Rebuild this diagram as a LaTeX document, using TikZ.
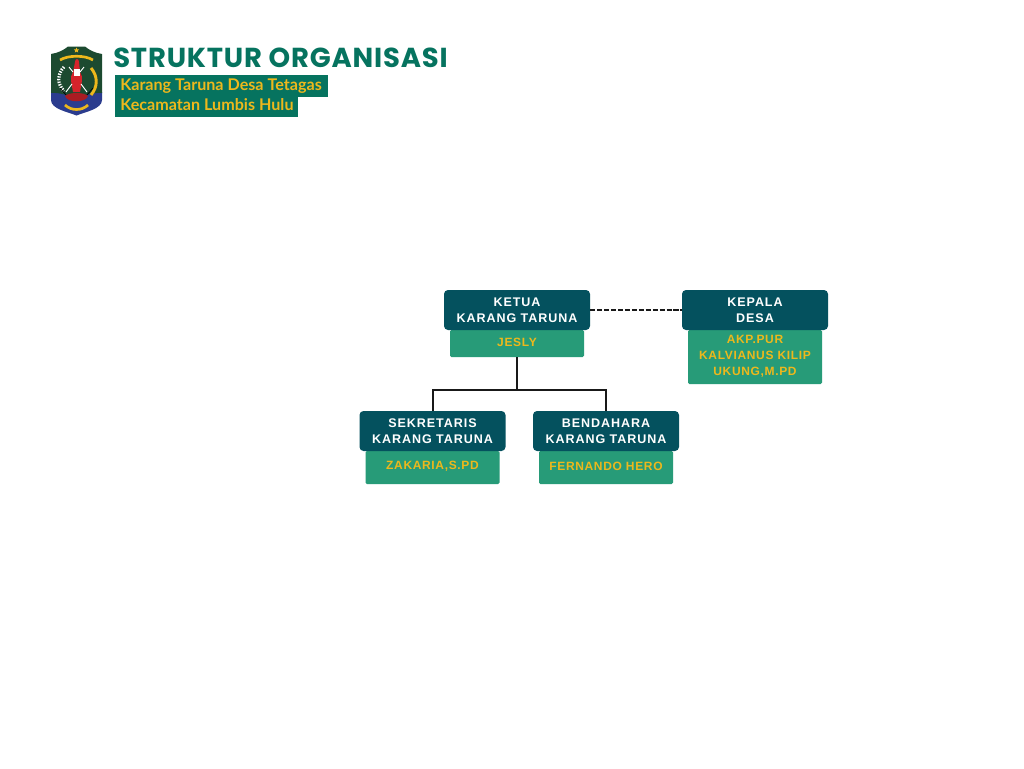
\documentclass[tikz,border=0pt]{standalone}
\usepackage{fontspec}
\setmainfont{Liberation Sans}
\newfontfamily\titlefont[LetterSpace=3]{Poppins}
\newfontfamily\subfont{Lato}
\newfontfamily\boxfont[LetterSpace=7.5]{Liberation Sans}
\newfontfamily\namefont[LetterSpace=5.5]{Liberation Sans}
\definecolor{darkteal}{HTML}{04515E}
\definecolor{midgreen}{HTML}{279B78}
\definecolor{gold}{HTML}{EDB81C}
\definecolor{titlegreen}{HTML}{06735F}
\definecolor{shieldgreen}{HTML}{1C4A30}
\definecolor{shieldblue}{HTML}{2B3C8E}
\definecolor{emblemred}{HTML}{D5232B}
\tikzset{
  rolebox/.style={fill=darkteal,rounded corners=3pt,inner sep=0pt,minimum width=109.5pt,minimum height=30pt},
  namebox/.style={fill=midgreen,rounded corners=1pt,inner sep=0pt,minimum width=100.5pt},
  roletext/.style={text=white,font=\boxfont\bfseries\fontsize{9.4}{12}\selectfont,align=center,inner sep=0pt},
  nametext/.style={text=gold,font=\namefont\bfseries\fontsize{9}{12}\selectfont,align=center,inner sep=0pt},
  banner/.style={fill=titlegreen,inner sep=0pt,minimum height=16pt,anchor=west},
  bannertext/.style={text=gold,font=\subfont\bfseries\fontsize{12.1}{12}\selectfont,inner sep=0pt,anchor=base west},
  link/.style={line width=1.5pt,black!90}
}
\begin{document}
\begin{tikzpicture}[x=0.75pt,y=-0.75pt]
\useasboundingbox[fill=white] (0,0) rectangle (1024,768);

% emblem
\fill[shieldblue] (51,92) -- (51,100) .. controls (51,109) and (68,112) .. (76.5,115.5) .. controls (85,112) and (102,109) .. (102,100) -- (102,92) -- cycle;
\fill[shieldgreen] (51,54) .. controls (58,53) and (64,50) .. (68,46.5) -- (85,46.5) .. controls (89,50) and (95,53) .. (102,54) -- (102,93) .. controls (92,92) and (86,97) .. (76.5,95) .. controls (67,97) and (61,92) .. (51,93) -- cycle;
\fill[gold] (76.5,47.5) -- (77.3,49.4) -- (79.2,49.5) -- (77.7,50.7) -- (78.2,52.6) -- (76.5,51.5) -- (74.8,52.6) -- (75.3,50.7) -- (73.8,49.5) -- (75.7,49.4) -- cycle;
\draw[gold,line width=2pt] (60,60) .. controls (68,55) and (85,55) .. (93,60);
\draw[gold,line width=2.2pt] (91,68) .. controls (98,76) and (98,87) .. (91,95);
\draw[white,line width=2.4pt,dash pattern=on 1pt off 1pt] (64,67) .. controls (57,74) and (57,84) .. (64,91);
\fill[emblemred] (75,62) .. controls (75,58) and (79,58) .. (79,62) -- (80,72) .. controls (84,77) and (81,85) .. (80,92) -- (73,92) .. controls (72,85) and (69,77) .. (73,72) -- cycle;
\fill[white] (73.5,69) rectangle (80,76);
\draw[white,line width=.7pt] (69,67) -- (73,72) (84,67) -- (80,72);
\draw[white,line width=.7pt] (72,84) -- (66,92) (81,84) -- (87,92);
\fill[emblemred!80!black] (65,96) .. controls (69,92) and (84,92) .. (88,96) .. controls (86,103) and (67,103) .. (65,96) -- cycle;
\draw[black,line width=.5pt] (66,95) -- (60,88) (87,95) -- (93,88);
\draw[gold,line width=2pt] (65,105) .. controls (71,111) and (82,111) .. (88,105);

% title
\node[text=titlegreen,font=\titlefont\bfseries\fontsize{20.6}{24}\selectfont,inner sep=0pt,anchor=base west] (title) at (113,67) {STRUKTUR ORGANISASI};
\node[banner,minimum width=159.75pt] (bannerone) at (114.5,86) {};
\node[banner,minimum width=137.25pt] (bannertwo) at (114.5,106) {};
\node[bannertext] (subone) at (120,90) {Karang Taruna Desa Tetagas};
\node[bannertext] (subtwo) at (120,110) {Kecamatan Lumbis Hulu};

% name boxes
\node[namebox,minimum height=20.25pt] (jeslybox) at (517,343.5) {};
\node[namebox,minimum height=40.5pt] (kadesbox) at (755,357) {};
\node[namebox,minimum height=24.75pt] (sekbox) at (432.5,467.5) {};
\node[namebox,minimum height=24.75pt] (benbox) at (606,467.5) {};

% connectors
\coordinate (fork) at (517,390);
\draw[link] (jeslybox.south) -- (fork);
\draw[link,line join=miter] (sekbox.center |- 0,411) -- (sekbox.center |- fork) -- (benbox.center |- fork) -- (benbox.center |- 0,411);
\node[rolebox] (ketua) at (517,310) {};
\node[rolebox] (kepala) at (755,310) {};
\node[rolebox] (sek) at (432.5,431) {};
\node[rolebox] (ben) at (606,431) {};
\draw[link,dash pattern=on 3.8pt off 1.4pt] (ketua.east) -- (kepala.west);

% texts
\node[roletext] (ketuat) at (517,310) {KETUA\\KARANG TARUNA};
\node[roletext] (kepalat) at (755,310) {KEPALA\\DESA};
\node[roletext] (sekt) at (432.5,431) {SEKRETARIS\\KARANG TARUNA};
\node[roletext] (bent) at (606,431) {BENDAHARA\\KARANG TARUNA};
\node[nametext] (jeslyt) at (517,342) {JESLY};
\node[nametext] (kadest) at (755,356) {AKP.PUR\\KALVIANUS KILIP\\UKUNG,M.PD};
\node[nametext] (sekn) at (432.5,466) {ZAKARIA,S.PD};
\node[nametext] (benn) at (606,466) {FERNANDO HERO};
\end{tikzpicture}
\end{document}
